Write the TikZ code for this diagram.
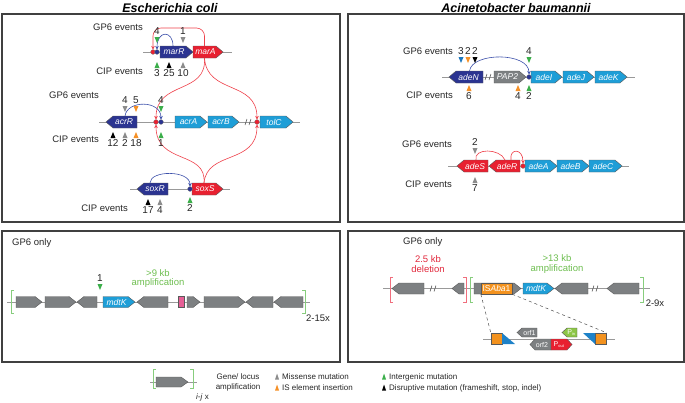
\documentclass[tikz,border=0pt]{standalone}
\usepackage{fontspec}
\setmainfont{Liberation Sans}
\usetikzlibrary{arrows.meta}

\definecolor{dkblue}{RGB}{43,52,145}
\definecolor{gred}{RGB}{232,32,48}
\definecolor{gcyan}{RGB}{30,158,215}
\definecolor{ggray}{RGB}{125,128,130}
\definecolor{mgreen}{RGB}{60,175,75}
\definecolor{morange}{RGB}{245,145,40}
\definecolor{mgray}{RGB}{140,140,140}
\definecolor{mblue}{RGB}{30,120,190}
\definecolor{ampgreen}{RGB}{110,190,80}
\definecolor{brgreen}{RGB}{135,205,125}
\definecolor{brred}{RGB}{240,110,125}
\definecolor{delred}{RGB}{225,40,60}
\definecolor{rpink}{RGB}{230,95,150}
\definecolor{regred}{RGB}{238,65,75}
\definecolor{regblue}{RGB}{60,80,170}
\definecolor{pingreen}{RGB}{140,198,70}
\definecolor{isorange}{RGB}{243,146,30}
\definecolor{irblue}{RGB}{30,130,200}

\tikzset{
  panel/.style={draw=black!75, line width=1.2pt},
  title/.style={font=\fontsize{12.5}{14}\selectfont\bfseries\itshape, inner sep=0pt},
  backbone/.style={draw=black!40, line width=0.9pt},
  gene/.style={draw=black!65, line width=0.4pt},
  genetext/.style={text=white, font=\fontsize{8.5}{9}\selectfont\itshape, inner sep=0pt},
  smalltext/.style={text=white, font=\fontsize{7}{8}\selectfont, inner sep=0pt},
  lbl/.style={text=black!85, font=\fontsize{9.5}{10.5}\selectfont, inner sep=0pt},
  num/.style={text=black!85, font=\fontsize{10}{11}\selectfont, inner sep=0pt},
  legtext/.style={text=black!85, font=\fontsize{8}{10}\selectfont, inner sep=0pt},
  redreg/.style={draw=regred, line width=0.6pt, -{Stealth[length=3.5pt,width=3.5pt]}},
  bluereg/.style={draw=regblue, line width=0.6pt, -{Stealth[length=3.5pt,width=3.5pt]}},
  rdot/.style={circle, fill=gred, draw=black!50, line width=0.3pt, inner sep=0pt, minimum size=4.8pt},
  bdot/.style={rdot, fill=dkblue},
  bracket/.style={line width=0.8pt},
  slash/.style={draw=black!70, line width=0.5pt},
  isbox/.style={draw=black!65, line width=0.4pt, fill=isorange, inner sep=0pt, minimum width=11pt, minimum height=11pt},
}

% gene arrows: name, from, to, y, colour, text
\def\gh{6}\def\gt{7}
\newcommand{\geneR}[6]{%
  \draw[gene, fill=#5] (#2,#4-\gh) -- (#3-\gt,#4-\gh) -- (#3,#4) -- (#3-\gt,#4+\gh) -- (#2,#4+\gh) -- cycle;
  \coordinate (#1t) at ({(#2+#3-\gt)/2},#4-\gh);
  \coordinate (#1b) at ({(#2+#3-\gt)/2},#4+\gh);
  \node[genetext] (#1) at ({(#2+#3-\gt)/2+1},#4) {#6};}
\newcommand{\geneL}[6]{%
  \draw[gene, fill=#5] (#3,#4-\gh) -- (#2+\gt,#4-\gh) -- (#2,#4) -- (#2+\gt,#4+\gh) -- (#3,#4+\gh) -- cycle;
  \coordinate (#1t) at ({(#2+\gt+#3)/2},#4-\gh);
  \coordinate (#1b) at ({(#2+\gt+#3)/2},#4+\gh);
  \node[genetext] (#1) at ({(#2+\gt+#3)/2-1},#4) {#6};}

% mutation marks: x, tip y, colour, count
\newcounter{mk}
\newcommand{\mutdown}[4]{%
  \stepcounter{mk}
  \fill[#3] (#1,#2) -- (#1-2.5,#2-6) -- (#1+2.5,#2-6) -- cycle;
  \node[num] (mk\themk) at (#1,#2-11.5) {#4};}
\newcommand{\mutup}[4]{%
  \stepcounter{mk}
  \fill[#3] (#1,#2) -- (#1-2.5,#2+6) -- (#1+2.5,#2+6) -- cycle;
  \node[num] (mk\themk) at (#1,#2+11.5) {#4};}
\newcommand{\legmark}[4]{%
  \stepcounter{mk}
  \fill[#3] (#1,#2-3.5) -- (#1-2,#2+2.5) -- (#1+2,#2+2.5) -- cycle;
  \node[legtext, anchor=west] (mk\themk) at (#1+5,#2) {#4};}

% breaks and brackets
\newcommand{\cut}[2]{%
  \draw[slash] (#1-3,#2+3) -- (#1-1,#2-3) (#1+1,#2+3) -- (#1+3,#2-3);}
\newcommand{\bracketL}[4]{%
  \draw[bracket, draw=#4] (#1+3,#2) -- (#1,#2) -- (#1,#3) -- (#1+3,#3);}
\newcommand{\bracketR}[4]{%
  \draw[bracket, draw=#4] (#1-3,#2) -- (#1,#2) -- (#1,#3) -- (#1-3,#3);}

\begin{document}
\begin{tikzpicture}[x=1pt, y=-1pt]
  \useasboundingbox (0,0) rectangle (685,402);

  \node[title] (tEc) at (170,8) {Escherichia coli};
  \node[title] (tAb) at (516,8) {Acinetobacter baumannii};

  \draw[panel] (2,14) rectangle (340,222);
  \draw[panel] (348,14) rectangle (684,222);
  \draw[panel] (2,231) rectangle (340,362);
  \draw[panel] (348,231) rectangle (684,362);

  % E. coli, marRA
  \draw[backbone] (143,52) -- (232,52);
  \geneR{marR}{160}{193}{52}{dkblue}{marR}
  \geneR{marA}{193}{223}{52}{gred}{marA}
  \node[lbl, anchor=east] (gM) at (143,27) {GP6 events};
  \node[lbl, anchor=east] (cM) at (143,71) {CIP events};

  % acrAB-tolC
  \draw[backbone] (99,122) -- (300,122);
  \geneL{acrR}{106}{137}{122}{dkblue}{acrR}
  \geneR{acrA}{175}{207}{122}{gcyan}{acrA}
  \geneR{acrB}{208}{239}{122}{gcyan}{acrB}
  \geneR{tolC}{260}{293}{122}{gcyan}{tolC}
  \cut{248}{122}
  \node[lbl, anchor=east] (gA) at (99,95) {GP6 events};
  \node[lbl, anchor=east] (cA) at (99,139) {CIP events};

  % soxRS
  \draw[backbone] (130,189) -- (230,189);
  \geneL{soxR}{137}{168}{189}{dkblue}{soxR}
  \geneR{soxS}{192}{223}{189}{gred}{soxS}
  \node[lbl, anchor=east] (cS) at (128,208) {CIP events};

  % regulation
  \draw[redreg, rounded corners=8pt] (marAt) |- (180,28) -| (153,49.5);
  \draw[bluereg] (marRt) .. controls (173,30) and (157,30) .. (157,49.5);
  \draw[redreg] (marAb) .. controls (207,95) and (156,80) .. (156,119.5);
  \draw[redreg] (marAb) .. controls (207,95) and (257,80) .. (257,119.5);
  \draw[redreg] (soxSt) .. controls (207,150) and (156,165) .. (156,124.5);
  \draw[redreg] (soxSt) .. controls (207,150) and (257,165) .. (257,124.5);
  \draw[bluereg] (acrRt) .. controls (127,100) and (161,100) .. (161,119.5);
  \draw[bluereg] ([xshift=-6pt]soxRt) .. controls (150,170) and (190,170) .. (190,186.5);

  \node[rdot] (dM1) at (153,52) {};
  \node[bdot] (dM2) at (157,52) {};
  \node[rdot] (dA1) at (156,122) {};
  \node[bdot] (dA2) at (161,122) {};
  \node[rdot] (dT) at (257,122) {};
  \node[bdot] (dS) at (190,189) {};

  \mutdown{157}{43}{mgreen}{4}
  \mutdown{183}{43}{mgray}{1}
  \mutup{157}{62}{mgreen}{3}
  \mutup{169}{62}{black}{25}
  \mutup{183}{62}{mgray}{10}
  \mutdown{125}{112}{mgray}{4}
  \mutdown{136}{112}{morange}{5}
  \mutdown{161}{112}{mgreen}{4}
  \mutup{113}{132}{black}{12}
  \mutup{125}{132}{mgray}{2}
  \mutup{136}{132}{morange}{18}
  \mutup{161}{132}{mgreen}{1}
  \mutup{148}{199}{black}{17}
  \mutup{160}{199}{mgray}{4}
  \mutup{190}{197}{mgreen}{2}

  % A. baumannii, adeIJK
  \draw[backbone] (442,77) -- (635,77);
  \geneL{adeN}{449}{483}{77}{dkblue}{adeN}
  \cut{488}{77}
  \geneR{PAP2}{494}{526}{77}{ggray}{PAP2}
  \geneR{adeI}{531}{562}{77}{gcyan}{adeI}
  \geneR{adeJ}{563}{594}{77}{gcyan}{adeJ}
  \geneR{adeK}{595}{627}{77}{gcyan}{adeK}
  \node[lbl, anchor=east] (gN) at (453,51) {GP6 events};
  \node[lbl, anchor=east] (cN) at (453,95) {CIP events};
  \draw[bluereg] (adeNt) .. controls (472,52) and (529,52) .. (529,74.5);
  \node[bdot] (dN) at (529,77) {};
  \mutdown{461}{63}{mblue}{3}
  \mutdown{468}{63}{morange}{2}
  \mutdown{475}{63}{black}{2}
  \mutdown{529}{63}{mgreen}{4}
  \mutup{469}{85}{morange}{6}
  \mutup{518}{85}{morange}{4}
  \mutup{529}{85}{mgreen}{2}

  % adeABC
  \draw[backbone] (448,166) -- (629,166);
  \geneL{adeS}{457}{488}{166}{gred}{adeS}
  \geneL{adeR}{489}{520}{166}{gred}{adeR}
  \geneR{adeA}{525}{557}{166}{gcyan}{adeA}
  \geneR{adeB}{557}{589}{166}{gcyan}{adeB}
  \geneR{adeC}{589}{622}{166}{gcyan}{adeC}
  \node[lbl, anchor=east] (gR) at (452,144) {GP6 events};
  \node[lbl, anchor=east] (cR) at (452,184) {CIP events};
  \draw[draw=regred, line width=0.6pt] (adeSt) .. controls (473,148) and (500,148) .. ([xshift=-3pt]adeRt);
  \draw[redreg] ([xshift=3pt]adeRt) .. controls (509,148) and (523,148) .. (523,163.5);
  \node[rdot] (dR) at (523,166) {};
  \mutdown{475}{154}{mgray}{2}
  \mutup{475}{177}{mgray}{7}

  % E. coli, GP6 only
  \def\gh{5.5}
  \node[lbl, anchor=west] (oEc) at (12,243) {GP6 only};
  \draw[backbone] (7,302) -- (310,302);
  \geneR{e1}{16}{42}{302}{ggray}{}
  \geneR{e2}{45}{76}{302}{ggray}{}
  \geneL{e3}{77}{97}{302}{ggray}{}
  \geneR{mdtKe}{103}{135}{302}{gcyan}{mdtK}
  \geneL{e5}{137}{168}{302}{ggray}{}
  \draw[gene, fill=rpink] (178,296.5) rectangle (184,307.5);
  \geneR{e7}{187}{200}{302}{ggray}{}
  \geneR{e8}{204}{245}{302}{ggray}{}
  \geneL{e9}{246}{273}{302}{ggray}{}
  \geneL{e10}{274}{303}{302}{ggray}{}
  \bracketL{11}{290}{313}{brgreen}
  \bracketR{305}{290}{313}{brgreen}
  \mutdown{100}{290}{mgreen}{1}
  \node[lbl, text=ampgreen, align=center] (ampE) at (158,278.5) {>9 kb\\[-1pt]amplification};
  \node[lbl] (nE) at (318,318) {2-15x};

  % A. baumannii, GP6 only
  \node[lbl, anchor=west] (oAb) at (403,242) {GP6 only};
  \node[lbl, text=delred, align=center] (delA) at (428,264) {2.5 kb\\[-1pt]deletion};
  \node[lbl, text=ampgreen, align=center] (ampA) at (557,264) {>13 kb\\[-1pt]amplification};
  \draw[backbone] (383,288.5) -- (650,288.5);
  \geneL{a1}{392}{424}{288.5}{ggray}{}
  \cut{433}{288.5}
  \geneL{a2}{452}{464}{288.5}{ggray}{}
  \geneR{a3}{474}{521}{288.5}{ggray}{}
  \node[gene, fill=isorange, minimum width=31pt, minimum height=11pt, inner sep=0pt,
        text=white, font=\fontsize{8.5}{9}\selectfont] (isaba) at (496.5,288.5) {IS\textit{Aba}1};
  \geneR{mdtKa}{523}{554}{288.5}{gcyan}{mdtK}
  \geneL{a5}{555}{588}{288.5}{ggray}{}
  \cut{595}{288.5}
  \geneL{a6}{607}{639}{288.5}{ggray}{}
  \bracketL{390}{277}{302}{brred}
  \bracketR{466}{277}{302}{brred}
  \bracketL{470}{277}{302}{brgreen}
  \bracketR{643}{277}{302}{brgreen}
  \node[lbl] (nA) at (655,303) {2-9x};

  % ISAba1 close-up
  \draw[backbone] (483,339) -- (615,339);
  \node[isbox] (irL) at (496.5,338.5) {};
  \node[isbox] (irR) at (601,338.5) {};
  \draw[dashed, draw=black!70, line width=0.5pt] (isaba.south west) -- (irL.north west);
  \draw[dashed, draw=black!70, line width=0.5pt] (isaba.south east) -- (irR.north east);
  \fill[irblue] (502,333) -- (502,344) -- (515,344) -- cycle;
  \fill[irblue] (583,333) -- (595,333) -- (595,344) -- cycle;
  \draw[gene, fill=ggray] (537,328) -- (522,328) -- (517,332.5) -- (522,337) -- (537,337) -- cycle;
  \node[smalltext] (orf1) at (529.5,332.5) {orf1};
  \draw[gene, fill=pingreen] (577,328) -- (567,328) -- (562,332.5) -- (567,337) -- (577,337) -- cycle;
  \node[smalltext] (pin) at (571.5,332.5) {P\textsubscript{\fontsize{4}{4}\selectfont in}};
  \def\gt{5}
  \geneL{orf2}{530}{551}{344.5}{ggray}{}
  \node[smalltext] (orf2t) at (542,344.5) {orf2};
  \geneR{pout}{551}{572}{344.5}{gred}{}
  \node[smalltext] (poutt) at (559,344.5) {P\textsubscript{\fontsize{4}{4}\selectfont out}};

  % legend
  \def\gh{5}\def\gt{7}
  \draw[backbone] (150,382) -- (197,382);
  \geneR{lg}{156}{188}{382}{ggray}{}
  \bracketL{153}{369}{388}{brgreen}
  \bracketR{193}{369}{388}{brgreen}
  \node[legtext, anchor=west] (ij) at (196,397) {\textit{i-j} x};
  \node[legtext, align=center] (lamp) at (238,382) {Gene/ locus\\amplification};
  \legmark{277}{377}{mgray}{Missense mutation}
  \legmark{277}{388}{morange}{IS element insertion}
  \legmark{384}{377}{mgreen}{Intergenic mutation}
  \legmark{384}{388}{black}{Disruptive mutation (frameshift, stop, indel)}

\end{tikzpicture}
\end{document}
